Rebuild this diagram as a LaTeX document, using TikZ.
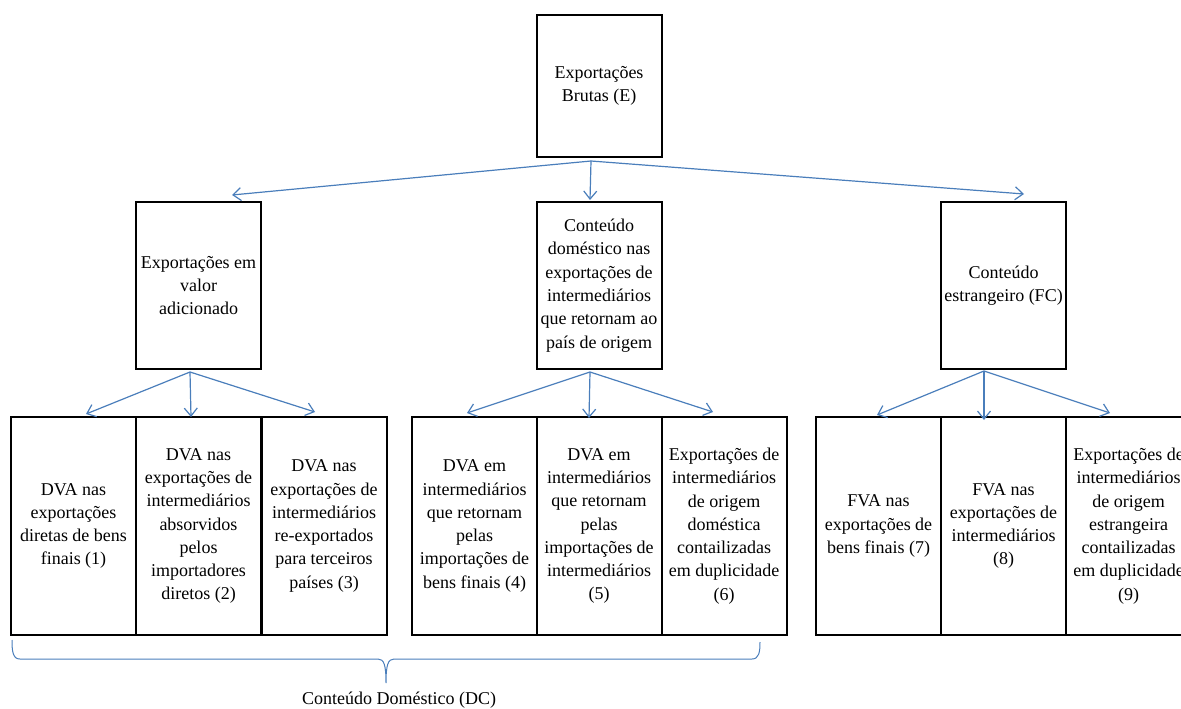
\documentclass[tikz,border=0pt]{standalone}
\usepackage{fontspec}
\setmainfont{Liberation Serif}
\usetikzlibrary{arrows.meta,calc}
\definecolor{linkblue}{RGB}{74,126,187}
\begin{document}
\begin{tikzpicture}[x=1pt,y=-1pt,
  box/.style={draw=black,line width=2pt,minimum width=125pt,inner sep=0pt,
              align=center,font=\fontsize{18}{23.3}\selectfont},
  topbox/.style={box,minimum height=142pt},
  midbox/.style={box,minimum height=167pt},
  leafbox/.style={box,minimum height=218pt},
  arr/.style={draw=linkblue,line width=1.2pt,-{Straight Barb[length=8pt,width=13pt]}},
  bracestyle/.style={draw=linkblue,line width=1pt},
  lbl/.style={font=\fontsize{18}{23.3}\selectfont}
]
\useasboundingbox (0,0) rectangle (1181,709);

% root
\node[topbox] (E) at (599,86) {Exportações\\Brutas (E)};

% second level
\node[midbox] (A) at (198.5,285.5) {Exportações em\\valor\\adicionado};
\node[midbox] (B) at (599,285.5) {Conteúdo\\doméstico nas\\exportações de\\intermediários\\que retornam ao\\país de origem};
\node[midbox] (C) at (1003.5,285.5) {Conteúdo\\estrangeiro (FC)};

% leaves
\node[leafbox] (L1) at (73.5,526) {DVA nas\\exportações\\diretas de bens\\finais (1)};
\node[leafbox] (L2) at (198.5,526) {DVA nas\\exportações de\\intermediários\\absorvidos\\pelos\\importadores\\diretos (2)};
\node[leafbox] (L3) at (324,526) {DVA nas\\exportações de\\intermediários\\re-exportados\\para terceiros\\países (3)};
\node[leafbox] (L4) at (474.5,526) {DVA em\\intermediários\\que retornam\\pelas\\importações de\\bens finais (4)};
\node[leafbox] (L5) at (599,526) {DVA em\\intermediários\\que retornam\\pelas\\importações de\\intermediários\\(5)};
\node[leafbox] (L6) at (724,526) {Exportações de\\intermediários\\de origem\\doméstica\\contailizadas\\em duplicidade\\(6)};
\node[leafbox] (L7) at (878.5,526) {FVA nas\\exportações de\\bens finais (7)};
\node[leafbox] (L8) at (1003.5,526) {FVA nas\\exportações de\\intermediários\\(8)};
\node[leafbox] (L9) at (1128.5,526) {Exportações de\\intermediários\\de origem\\estrangeira\\contailizadas\\em duplicidade\\(9)};

% arrow origins just below each parent
\coordinate (Eo) at ($(E.south)+(-8,3)$);
\coordinate (Ao) at ($(A.south)+(-8.5,2)$);
\coordinate (Bo) at ($(B.south)+(-9,2)$);
\coordinate (Co) at ($(C.south)+(-19.5,1)$);

% arrow tips
\coordinate (At) at ($(A.north)+(33.5,-6)$);
\coordinate (Bt) at ($(B.north)+(-9,-1)$);
\coordinate (Ct) at ($(C.north)+(20.5,-7)$);
\coordinate (L1t) at ($(L1.north)+(12.5,-2)$);
\coordinate (L2t) at ($(L2.north)+(-7.5,1)$);
\coordinate (L3t) at ($(L3.north)+(-9,-4)$);
\coordinate (L4t) at ($(L4.north)+(-7.5,-3)$);
\coordinate (L5t) at ($(L5.north)+(-10,2)$);
\coordinate (L6t) at ($(L6.north)+(-11,-4)$);
\coordinate (L7t) at ($(L7.north)+(-1.5,-1)$);
\coordinate (L8t) at ($(L8.north)+(-19.5,4)$);
\coordinate (L9t) at ($(L9.north)+(-18.5,-3)$);

\draw[arr] (Eo) -- (At);
\draw[arr] (Eo) -- (Bt);
\draw[arr] (Eo) -- (Ct);
\draw[arr] (Ao) -- (L1t);
\draw[arr] (Ao) -- (L2t);
\draw[arr] (Ao) -- (L3t);
\draw[arr] (Bo) -- (L4t);
\draw[arr] (Bo) -- (L5t);
\draw[arr] (Bo) -- (L6t);
\draw[arr] (Co) -- (L7t);
\draw[arr] (Co) -- (L8t);
\draw[arr] (Co) -- (L9t);

% brace under the domestic-content leaves
\coordinate (braceL) at (12,640);
\coordinate (braceTip) at (386,683);
\coordinate (braceR) at (760,642);
\draw[bracestyle] (braceL) .. controls (12,652) and (13,659) .. (20,659)
  -- (378,659) .. controls (384,659) and (386,665) .. (braceTip)
  .. controls (386,665) and (388,659) .. (394,659)
  -- (752,659) .. controls (759,659) and (760,652) .. (braceR);
\node[lbl] (DC) at (399,700) {Conteúdo Doméstico (DC)};
\end{tikzpicture}
\end{document}
